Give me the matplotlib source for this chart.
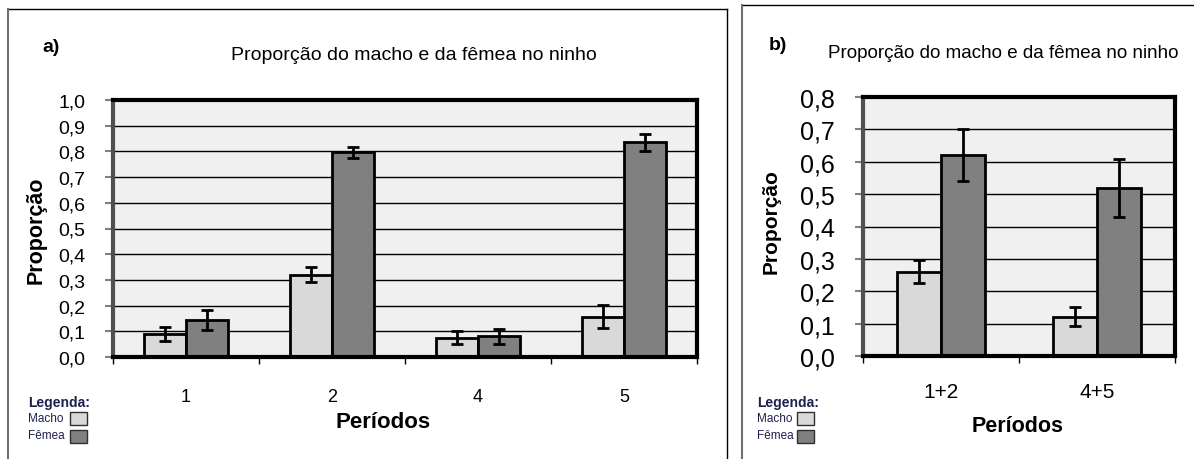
import matplotlib
matplotlib.use("Agg")
import matplotlib.pyplot as plt
from matplotlib import font_manager
from matplotlib.patches import Rectangle
from matplotlib.lines import Line2D
import numpy as np

# ---------------- data ----------------
periods_a = ["1", "2", "4", "5"]
macho_a = [0.09, 0.32, 0.075, 0.157]
macho_err_a = [0.026, 0.030, 0.025, 0.044]
femea_a = [0.145, 0.796, 0.080, 0.835]
femea_err_a = [0.038, 0.022, 0.030, 0.033]

periods_b = ["1+2", "4+5"]
macho_b = [0.26, 0.122]
macho_err_b = [0.035, 0.028]
femea_b = [0.621, 0.518]
femea_err_b = [0.080, 0.090]

yticks_a = [0.0, 0.1, 0.2, 0.3, 0.4, 0.5, 0.6, 0.7, 0.8, 0.9, 1.0]
yticks_b = [0.0, 0.1, 0.2, 0.3, 0.4, 0.5, 0.6, 0.7, 0.8]

title = "Proporção do macho e da fêmea no ninho"
xlabel = "Períodos"
ylabel = "Proporção"

# ---------------- style ----------------
names = {f.name for f in font_manager.fontManager.ttflist}
NARROW = "Liberation Sans Narrow" if "Liberation Sans Narrow" in names else "Liberation Sans"
ARIAL = "Liberation Sans"
plt.rcParams["font.family"] = [ARIAL, "DejaVu Sans"]

C_MACHO = "#D9D9D9"
C_FEMEA = "#808080"
C_BG = "#F0F0F0"
C_LEG = "#1F2050"

W, H = 1194, 460
fig = plt.figure(figsize=(W / 100, H / 100), dpi=100)


def fx(x):
    return x / W


def fy(y):
    return 1 - y / H


def panel(ax, cats, m, me, f, fe, yt, ymax, width, ytick_size, xtick_size, xpad):
    x = np.arange(len(cats))
    ax.set_facecolor(C_BG)
    ax.set_axisbelow(True)
    for v in yt[1:-1]:
        ax.axhline(v, color="black", lw=1.0, zorder=0.5)
    ax.bar(x - width / 2, m, width, color=C_MACHO, edgecolor="black", lw=2, zorder=2)
    ax.bar(x + width / 2, f, width, color=C_FEMEA, edgecolor="black", lw=2, zorder=2)
    ax.errorbar(x - width / 2, m, yerr=me, fmt="none", ecolor="black",
                elinewidth=2, capsize=4, capthick=2, zorder=3)
    ax.errorbar(x + width / 2, f, yerr=fe, fmt="none", ecolor="black",
                elinewidth=2, capsize=4, capthick=2, zorder=3)
    ax.set_xlim(-0.5, len(cats) - 0.5)
    ax.set_ylim(0, ymax)
    ax.set_yticks(yt)
    ax.set_yticklabels([f"{v:.1f}".replace(".", ",") for v in yt], fontsize=ytick_size)
    ax.set_xticks(x)
    ax.set_xticklabels(cats, fontsize=xtick_size)
    ax.set_xticks(np.arange(len(cats) + 1) - 0.5, minor=True)
    ax.tick_params(axis="x", which="major", length=0, pad=xpad)
    ax.tick_params(axis="x", which="minor", length=5, width=1, color="black", direction="out")
    ax.tick_params(axis="y", length=6, width=1.5, color="#808080", pad=14)
    for s in ["top", "right", "bottom"]:
        ax.spines[s].set_linewidth(3)
        ax.spines[s].set_color("black")
    ax.spines["left"].set_linewidth(3)
    ax.spines["left"].set_color("#505050")


# panel a
axa = fig.add_axes([fx(113), fy(358), fx(697 - 113), (358 - 101) / H])
panel(axa, periods_a, macho_a, macho_err_a, femea_a, femea_err_a, yticks_a, 1.0, 0.29, 14, 13, 22)

# panel b
axb = fig.add_axes([fx(863), fy(357), fx(1175 - 863), (357 - 98) / H])
panel(axb, periods_b, macho_b, macho_err_b, femea_b, femea_err_b, yticks_b, 0.8, 0.285, 18, 15, 19)

# titles and labels
fig.text(fx(51), fy(48), "a)", fontsize=14, fontweight="bold", ha="center", va="center")
fig.text(fx(414), fy(55), title, fontsize=14, family=NARROW, ha="center", va="center")
fig.text(fx(778), fy(45), "b)", fontsize=14, fontweight="bold", ha="center", va="center")
fig.text(fx(1003), fy(53), title, fontsize=13.5, family=NARROW, ha="center", va="center")

fig.text(fx(36), fy(230), ylabel, rotation=90, fontsize=15.5, fontweight="bold", ha="center", va="center")
fig.text(fx(771), fy(222), ylabel, rotation=90, fontsize=15, fontweight="bold", ha="center", va="center")

fig.text(fx(383), fy(423), xlabel, fontsize=16, fontweight="bold", ha="center", va="center")
fig.text(fx(1018), fy(427), xlabel, fontsize=15.5, fontweight="bold", ha="center", va="center")

# legends
for (lx, bx) in [(28, 70), (757, 797)]:
    fig.text(fx(lx), fy(403), "Legenda:", fontsize=10, fontweight="bold", family=ARIAL,
             color=C_LEG, ha="left", va="center")
    fig.text(fx(lx), fy(419), "Macho", fontsize=8.5, family=ARIAL, color=C_LEG, ha="left", va="center")
    fig.text(fx(lx), fy(436), "Fêmea", fontsize=8.5, family=ARIAL, color=C_LEG, ha="left", va="center")
    fig.patches.append(Rectangle((fx(bx), fy(426)), fx(17), 13 / H, transform=fig.transFigure,
                                 facecolor=C_MACHO, edgecolor="#303030", lw=1))
    fig.patches.append(Rectangle((fx(bx), fy(444)), fx(17), 13 / H, transform=fig.transFigure,
                                 facecolor=C_FEMEA, edgecolor="#303030", lw=1))

# panel frames
def fl(x0, y0, x1, y1, c="black", lw=1.0):
    fig.lines.append(Line2D([fx(x0), fx(x1)], [fy(y0), fy(y1)], transform=fig.transFigure,
                            color=c, lw=lw))

fl(8, 10, 727, 10)
fl(8, 10, 8, 460, c="#707070", lw=1.5)
fl(727, 10, 727, 460)
fl(742, 6, 1194, 6)
fl(742, 6, 742, 460, c="#707070", lw=1.5)

fig.savefig("out.png", dpi=100)
